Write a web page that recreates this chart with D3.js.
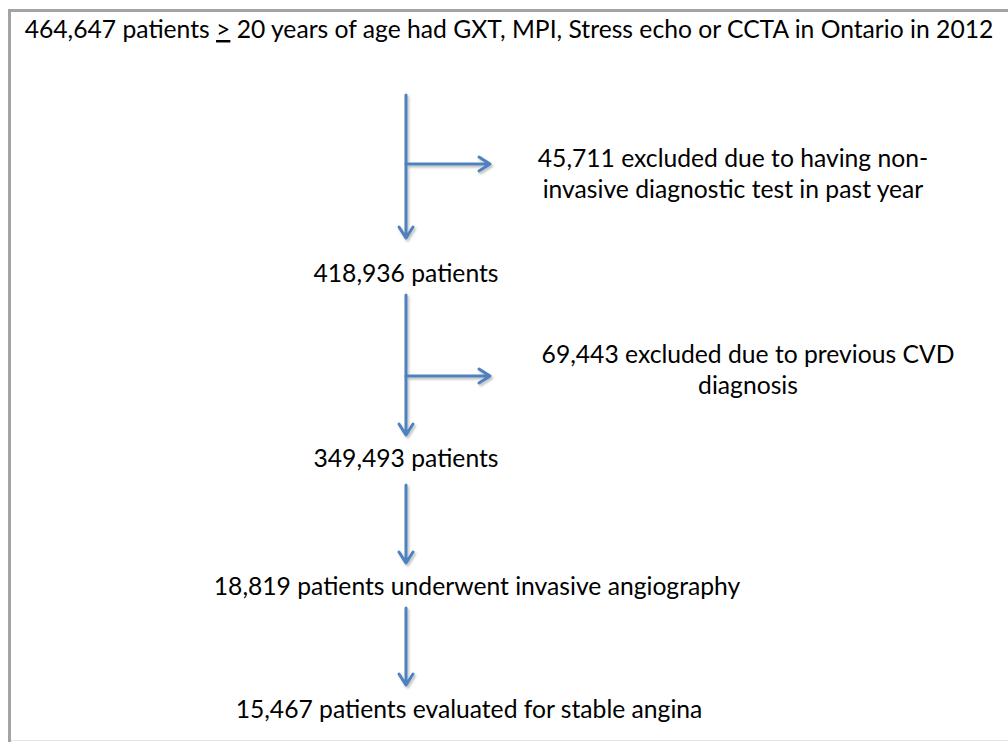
<!DOCTYPE html>
<html lang="en">
<head>
<meta charset="utf-8">
<title>Patient selection flow</title>
<style>
  body { margin: 0; background: #fff; }
  svg { display: block; }
  text { font-family: Lato, "Open Sans", sans-serif; fill: #000; }
</style>
</head>
<body>
<script src="https://cdn.jsdelivr.net/npm/d3@7"></script>
<script>
// --- chart content ---
var steps = [
  ["464,647 patients ", ">", " 20 years of age had GXT, MPI, Stress echo or CCTA in Ontario in 2012"],
  ["418,936 patients"],
  ["349,493 patients"],
  ["18,819 patients underwent invasive angiography"],
  ["15,467 patients evaluated for stable angina"]
];
var exclusions = [
  ["45,711 excluded due to having non-", "invasive diagnostic test in past year"],
  ["69,443 excluded due to previous CVD", "diagnosis"]
];

// --- layout ---
var w = 1008, h = 742;
var stemX = 406;
var stepY = [38, 282, 467, 595, 718];        // text baselines
var stepX = [509, 406, 406, 477, 469];       // text centres
var arrows = [[95, 238], [295, 435], [485, 563], [608, 685]];
var branchY = [164, 376], branchEnd = 490;
var exclX = [733, 748], exclY = [167, 363], lineGap = 30.5;
var blue = "#4f81bd";

var svg = d3.select("body").append("svg").attr("width", w).attr("height", h);

var defs = svg.append("defs");
var f = defs.append("filter").attr("id", "shadow")
  .attr("x", "-50%").attr("y", "-20%").attr("width", "200%").attr("height", "140%");
f.append("feDropShadow").attr("dx", 1.5).attr("dy", 2).attr("stdDeviation", 1.2)
  .attr("flood-color", "#000").attr("flood-opacity", 0.25);

// frame
svg.append("line").attr("x1", 8).attr("x2", w).attr("y1", 10.5).attr("y2", 10.5)
  .attr("stroke", "#a3a3a3").attr("stroke-width", 3);
svg.append("line").attr("x1", 9.5).attr("x2", 9.5).attr("y1", 9).attr("y2", h)
  .attr("stroke", "#a3a3a3").attr("stroke-width", 3);
svg.append("line").attr("x1", 11).attr("x2", w).attr("y1", 740.5).attr("y2", 740.5)
  .attr("stroke", "#e4e4e4").attr("stroke-width", 1);

// fit font size so the title line spans the same width as in the reference
var probe = svg.append("text").attr("font-size", 22).text(steps[0].join(""));
var fs = 22 * 969 / probe.node().getComputedTextLength();
probe.remove();

// main steps
var st = svg.selectAll("text.step").data(steps).enter().append("text")
  .attr("class", "step")
  .attr("x", function(d, i) { return stepX[i]; })
  .attr("y", function(d, i) { return stepY[i]; })
  .attr("text-anchor", "middle")
  .attr("font-size", fs);
st.selectAll("tspan").data(function(d) { return d; }).enter().append("tspan")
  .style("text-decoration", function(d) { return d === ">" ? "underline" : null; })
  .text(function(d) { return d; });

// exclusion boxes
exclusions.forEach(function(lines, i) {
  svg.append("text").attr("font-size", fs).attr("text-anchor", "middle")
    .selectAll("tspan").data(lines).enter().append("tspan")
    .attr("x", exclX[i])
    .attr("y", function(d, j) { return exclY[i] + j * lineGap; })
    .text(function(d) { return d; });
});

// arrows
var g = svg.append("g").attr("stroke", blue).attr("stroke-width", 3)
  .attr("fill", "none").attr("stroke-linecap", "round").attr("stroke-linejoin", "round")
  .attr("filter", "url(#shadow)");

g.selectAll("path.down").data(arrows).enter().append("path")
  .attr("class", "down")
  .attr("d", function(d) {
    var p = d3.path();
    p.moveTo(stemX, d[0]); p.lineTo(stemX, d[1]);
    p.moveTo(stemX - 7, d[1] - 11); p.lineTo(stemX, d[1]); p.lineTo(stemX + 7, d[1] - 11);
    return p.toString();
  });

g.selectAll("path.side").data(branchY).enter().append("path")
  .attr("class", "side")
  .attr("d", function(y) {
    var p = d3.path();
    p.moveTo(stemX, y); p.lineTo(branchEnd, y);
    p.moveTo(branchEnd - 11, y - 7); p.lineTo(branchEnd, y); p.lineTo(branchEnd - 11, y + 7);
    return p.toString();
  });
</script>
</body>
</html>
